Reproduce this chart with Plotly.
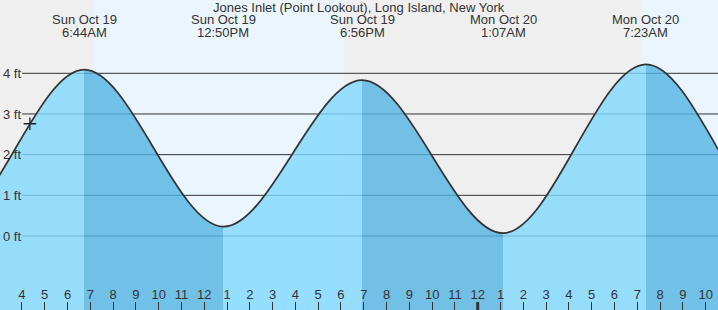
import plotly.graph_objects as go

# ---------------- data (hours after Sun Oct 19 00:00) ----------------
# tide extremes; the first two and last two lie outside the visible window (estimated)
tide_hours = [-5.6, 0.67, 6.733, 12.833, 18.933, 25.117, 31.383, 37.6, 43.8]
tide_feet = [3.9, 0.2, 4.09, 0.23, 3.83, 0.07, 4.22, 0.15, 3.9]

# labelled extremes (visible)
label_hours = [6.733, 12.833, 18.933, 25.117, 31.383]
label_days = ["Sun Oct 19", "Sun Oct 19", "Sun Oct 19", "Mon Oct 20", "Mon Oct 20"]
label_times = ["6:44AM", "12:50PM", "6:56PM", "1:07AM", "7:23AM"]

# daylight intervals (sunrise, sunset)
day_start = [7.16, 31.15]
day_end = [18.13, 40.0]

# current time marker
now_hour = 4.35
now_feet = 2.76

# axis ticks
hour_ticks = list(range(3, 35))
hour_labels = ["3", "4", "5", "6", "7", "8", "9", "10", "11", "12",
               "1", "2", "3", "4", "5", "6", "7", "8", "9", "10", "11",
               "12", "1", "2", "3", "4", "5", "6", "7", "8", "9", "10"]
midnight_hour = 24
feet_ticks = [0, 1, 2, 3, 4]
feet_labels = ["0 ft", "1 ft", "2 ft", "3 ft", "4 ft"]

title_text = "Jones Inlet (Point Lookout), Long Island, New York"

# ---------------- view / style ----------------
W, H = 718, 310
x_range = [3.038, 34.543]
y_range = [-1.819, 5.802]
FONT = "Arial, Liberation Sans, sans-serif"
TXT = "#333333"
NIGHT = "#efefef"
DAY = "#ebf5fe"
LIGHT_WATER = "rgba(128,216,255,0.8)"
DARK_WATER = "rgba(83,180,226,0.8)"

# gradient stops: darker while the tide is falling
g0, g1 = tide_hours[0], tide_hours[-1]
span = g1 - g0
stops = []
for i in range(len(tide_hours) - 1):
    col = DARK_WATER if tide_feet[i + 1] < tide_feet[i] else LIGHT_WATER
    stops.append([(tide_hours[i] - g0) / span, col])
    stops.append([(tide_hours[i + 1] - g0) / span, col])
stops[0][0] = 0.0
stops[-1][0] = 1.0

fig = go.Figure()

# floor for the water fill
fig.add_trace(go.Scatter(
    x=[tide_hours[0], tide_hours[-1]], y=[y_range[0] - 2, y_range[0] - 2],
    mode="lines", line=dict(width=0), hoverinfo="skip", showlegend=False))

# tide curve with water fill
fig.add_trace(go.Scatter(
    x=tide_hours, y=tide_feet, mode="lines",
    line=dict(color="#333333", width=1.7, shape="spline", smoothing=1),
    fill="tonexty",
    fillgradient=dict(type="horizontal", colorscale=stops, start=g0, stop=g1),
    hoverinfo="skip", showlegend=False))

# current time marker
fig.add_trace(go.Scatter(
    x=[now_hour], y=[now_feet], mode="markers",
    marker=dict(symbol="cross-thin", size=9, line=dict(color="#222222", width=1.3)),
    hoverinfo="skip", showlegend=False))

shapes = []
for s, e in zip(day_start, day_end):
    shapes.append(dict(type="rect", xref="x", yref="paper", x0=s, x1=e, y0=0, y1=1,
                       fillcolor=DAY, line=dict(width=0), layer="below"))
for f in feet_ticks:
    shapes.append(dict(type="line", xref="paper", yref="y", x0=22 / W, x1=1, y0=f, y1=f,
                       line=dict(color="#333333", width=1), layer="below"))
shapes.append(dict(type="line", xref="x", yref="paper", x0=midnight_hour, x1=midnight_hour,
                   y0=0, y1=8 / H, line=dict(color="#333333", width=3), layer="above"))

annotations = [dict(text=title_text, xref="paper", yref="paper", x=0.5, y=1 - 8 / H,
                    xanchor="center", yanchor="middle", showarrow=False,
                    font=dict(family=FONT, size=13, color=TXT))]
for hx, d, t in zip(label_hours, label_days, label_times):
    annotations.append(dict(text=d, xref="x", yref="paper", x=hx, y=1 - 20 / H,
                            xanchor="center", yanchor="middle", showarrow=False,
                            font=dict(family=FONT, size=13, color=TXT)))
    annotations.append(dict(text=t, xref="x", yref="paper", x=hx, y=1 - 32 / H,
                            xanchor="center", yanchor="middle", showarrow=False,
                            font=dict(family=FONT, size=13, color=TXT)))

fig.update_layout(
    width=W, height=H, autosize=False,
    margin=dict(l=0, r=0, t=0, b=0, pad=0),
    paper_bgcolor=NIGHT, plot_bgcolor=NIGHT,
    shapes=shapes, annotations=annotations,
    showlegend=False,
    xaxis=dict(range=x_range, tickvals=hour_ticks, ticktext=hour_labels,
               ticks="inside", ticklen=8, tickwidth=1, tickcolor="#333333",
               ticklabelposition="inside", showgrid=False, zeroline=False,
               showline=False, fixedrange=True,
               tickfont=dict(family=FONT, size=13, color=TXT)),
    yaxis=dict(range=y_range, tickvals=feet_ticks, ticktext=feet_labels,
               ticks="", ticklabelposition="inside", showgrid=False,
               zeroline=False, showline=False, fixedrange=True,
               tickfont=dict(family=FONT, size=13, color=TXT)),
)

fig.write_html("out.html")
